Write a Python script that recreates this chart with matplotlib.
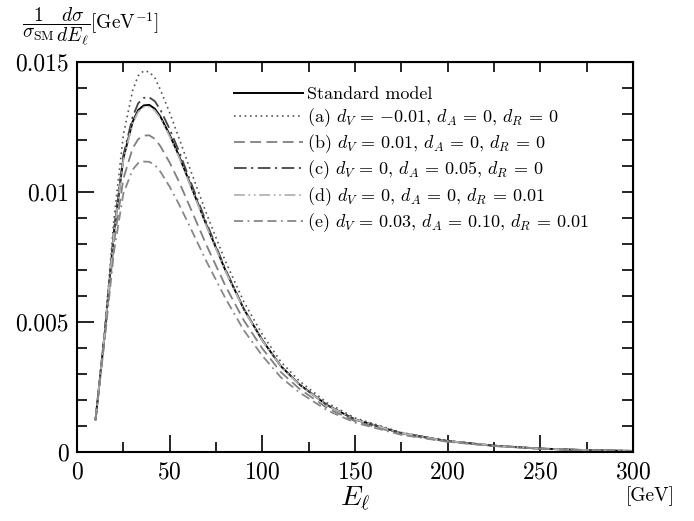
import matplotlib
matplotlib.use("Agg")
import matplotlib.pyplot as plt
import numpy as np

plt.rcParams["font.family"] = ["cmr10", "DejaVu Serif"]
plt.rcParams["mathtext.fontset"] = "cm"
plt.rcParams["axes.formatter.use_mathtext"] = True

# Lepton energy points (GeV)
energy = [10, 15, 20, 25, 30, 33, 36, 39, 42, 45, 50, 55, 60, 70, 80, 90, 100,
          110, 120, 135, 150, 175, 200, 225, 250, 275, 300]

# Normalised distributions (GeV^-1)
sm = [0.00125, 0.0046, 0.0085, 0.0113, 0.0127, 0.01315, 0.01333, 0.01335, 0.0132,
      0.0129, 0.0122, 0.0114, 0.0105, 0.0087, 0.0070, 0.0055, 0.0043, 0.0033,
      0.0026, 0.0018, 0.00125, 0.00072, 0.00042, 0.00024, 0.00013, 0.00007, 0.00004]
case_a = [0.00125, 0.00474, 0.00901, 0.0122, 0.0139, 0.01447, 0.01466, 0.01462, 0.01439,
          0.01393, 0.01305, 0.01208, 0.01108, 0.00914, 0.00735, 0.00578, 0.00452, 0.00347,
          0.00273, 0.00189, 0.00131, 0.00075, 0.00043, 0.00025, 0.000133, 0.00007, 0.00004]
case_b = [0.00125, 0.00446, 0.00808, 0.01051, 0.01168, 0.01203, 0.01217, 0.01218, 0.01204,
          0.01176, 0.01113, 0.0104, 0.00958, 0.00793, 0.0064, 0.00506, 0.00398, 0.00307,
          0.00243, 0.00169, 0.00118, 0.00068, 0.0004, 0.00023, 0.000127, 0.000069, 0.00004]
case_c = [0.00125, 0.0046, 0.00854, 0.01141, 0.01289, 0.01341, 0.01362, 0.01364, 0.01349,
          0.01316, 0.01242, 0.01157, 0.01063, 0.00879, 0.00704, 0.0055, 0.0043, 0.0033,
          0.0026, 0.0018, 0.00125, 0.00072, 0.00042, 0.00024, 0.00013, 0.00007, 0.00004]
case_d = [0.00125, 0.00458, 0.00846, 0.01124, 0.01264, 0.01308, 0.01326, 0.01328, 0.01313,
          0.01284, 0.01214, 0.01134, 0.01045, 0.00866, 0.00697, 0.00548, 0.00428, 0.00329,
          0.00259, 0.00179, 0.00125, 0.00072, 0.00042, 0.00024, 0.00013, 0.00007, 0.00004]
case_e = [0.00125, 0.00437, 0.00774, 0.00994, 0.01086, 0.01111, 0.01117, 0.01116, 0.01104,
          0.01078, 0.0102, 0.00953, 0.0088, 0.00731, 0.00592, 0.00468, 0.0037, 0.00287,
          0.00229, 0.0016, 0.00113, 0.00066, 0.00039, 0.00023, 0.000126, 0.000069, 0.00004]

labels = ["Standard model",
          r"(a) $d_V\,=\,{-0.01}$, $d_A\,=\,0$, $d_R\,=\,0$",
          r"(b) $d_V\,=\,0.01$, $d_A\,=\,0$, $d_R\,=\,0$",
          r"(c) $d_V\,=\,0$, $d_A\,=\,0.05$, $d_R\,=\,0$",
          r"(d) $d_V\,=\,0$, $d_A\,=\,0$, $d_R\,=\,0.01$",
          r"(e) $d_V\,=\,0.03$, $d_A\,=\,0.10$, $d_R\,=\,0.01$"]

xticks = [0, 50, 100, 150, 200, 250, 300]
yticks = [0, 0.005, 0.01, 0.015]
ytick_labels = ["0", "0.005", "0.01", "0.015"]

fig = plt.figure(figsize=(6.94, 5.21), dpi=100)
ax = fig.add_axes([0.111, 0.1325, 0.801, 0.7485])

ax.plot(energy, sm, color="black", lw=1.4, label=labels[0])
ax.plot(energy, case_a, color="#555555", lw=1.2, ls=(0, (1, 2.2)), label=labels[1])
ax.plot(energy, case_b, color="#808080", lw=1.3, ls=(0, (6, 3)), label=labels[2])
ax.plot(energy, case_c, color="#444444", lw=1.3, ls=(0, (7, 2.5, 1.2, 2.5)), label=labels[3])
ax.plot(energy, case_d, color="#b4b4b4", lw=1.3, ls=(0, (6, 2, 1, 2, 1, 2)), label=labels[4])
ax.plot(energy, case_e, color="#888888", lw=1.3, ls=(0, (5, 2.5, 1, 2.5, 5, 2.5)), label=labels[5])

ax.set_xlim(0, 300)
ax.set_ylim(0, 0.015)
ax.set_xticks(xticks)
ax.set_xticks(np.arange(0, 301, 25), minor=True)
ax.set_yticks(yticks)
ax.set_yticklabels(ytick_labels)
ax.set_yticks(np.arange(0, 0.0151, 0.001), minor=True)
ax.tick_params(which="major", direction="in", length=12, width=1.2, labelsize=17, pad=6)
ax.tick_params(which="minor", direction="in", length=7.5, width=1.2)
ax.tick_params(axis="x", which="major", pad=7)
for sp in ax.spines.values():
    sp.set_linewidth(1.5)

# top and right frame carry plain ticks of one length
top = ax.secondary_xaxis("top")
top.set_xticks(np.arange(0, 301, 25))
top.tick_params(direction="in", length=7.5, width=1.2, labeltop=False)
right = ax.secondary_yaxis("right")
right.set_yticks(np.arange(0, 0.0151, 0.001))
right.tick_params(direction="in", length=8, width=1.2, labelright=False)

ax.legend(loc="upper left", bbox_to_anchor=(0.27, 0.955), frameon=False, fontsize=13,
          handlelength=3.8, handletextpad=0.25, labelspacing=0.2, borderaxespad=0)

fig.text(355 / 694, 1 - 499 / 521, r"$E_\ell$", fontsize=20, ha="center", va="center")
fig.text(650 / 694, 1 - 496 / 521, "[GeV]", fontsize=14, ha="center", va="center")
fig.text(22 / 694, 1 - 27 / 521,
         r"$\dfrac{1}{\sigma_{\rm SM}}\dfrac{d\sigma}{dE_\ell}$[GeV$^{-1}$]",
         fontsize=14, ha="left", va="center")

fig.savefig("out.png", dpi=100)
